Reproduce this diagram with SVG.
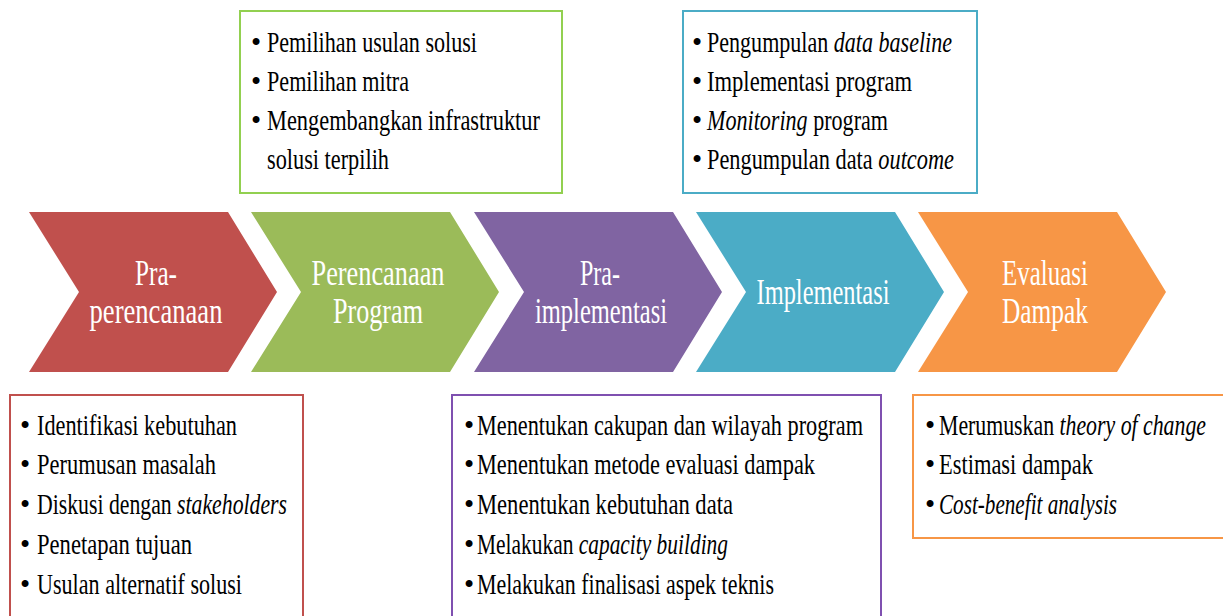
<svg xmlns="http://www.w3.org/2000/svg" width="1223" height="616" viewBox="0 0 1223 616">
<style>
.lbl{font-family:"Liberation Serif",serif;font-size:36px;fill:#fff;text-anchor:middle}
.t{font-family:"Liberation Serif",serif;font-size:29px;fill:#000}
.it{font-style:italic}
.box{fill:#fff;stroke-width:2}
</style>
<rect width="1223" height="616" fill="#fff"/>
<g id="chevron-praperencanaan">
<polygon points="29,212 228,212 277,292 228,372 29,372 79,292" fill="#C0504D"/>
<text class="lbl" x="156" y="285" textLength="42" lengthAdjust="spacingAndGlyphs">Pra-</text>
<text class="lbl" x="156" y="323" textLength="133" lengthAdjust="spacingAndGlyphs">perencanaan</text>
</g>
<g id="chevron-perencanaan">
<polygon points="251,212 450,212 499,292 450,372 251,372 301,292" fill="#9BBB59"/>
<text class="lbl" x="378" y="285" textLength="133" lengthAdjust="spacingAndGlyphs">Perencanaan</text>
<text class="lbl" x="378" y="323" textLength="90" lengthAdjust="spacingAndGlyphs">Program</text>
</g>
<g id="chevron-praimplementasi">
<polygon points="474,212 673,212 722,292 673,372 474,372 524,292" fill="#8064A2"/>
<text class="lbl" x="600" y="285" textLength="40" lengthAdjust="spacingAndGlyphs">Pra-</text>
<text class="lbl" x="601" y="323" textLength="132" lengthAdjust="spacingAndGlyphs">implementasi</text>
</g>
<g id="chevron-implementasi">
<polygon points="696,212 895,212 944,292 895,372 696,372 746,292" fill="#4BACC6"/>
<text class="lbl" x="823" y="304" textLength="133" lengthAdjust="spacingAndGlyphs">Implementasi</text>
</g>
<g id="chevron-evaluasi">
<polygon points="918,212 1117,212 1166,292 1117,372 918,372 968,292" fill="#F79646"/>
<text class="lbl" x="1045" y="285" textLength="86" lengthAdjust="spacingAndGlyphs">Evaluasi</text>
<text class="lbl" x="1045" y="323" textLength="86" lengthAdjust="spacingAndGlyphs">Dampak</text>
</g>
<g id="box-perencanaan">
<rect class="box" x="240" y="11" width="322" height="182" stroke="#92D050"/>
<text class="t" x="251" y="52">•</text>
<text class="t" x="267" y="52" textLength="210" lengthAdjust="spacingAndGlyphs">Pemilihan usulan solusi</text>
<text class="t" x="251" y="91">•</text>
<text class="t" x="267" y="91" textLength="142" lengthAdjust="spacingAndGlyphs">Pemilihan mitra</text>
<text class="t" x="251" y="130">•</text>
<text class="t" x="267" y="130" textLength="273" lengthAdjust="spacingAndGlyphs">Mengembangkan infrastruktur</text>
<text class="t" x="267" y="169" textLength="122" lengthAdjust="spacingAndGlyphs">solusi terpilih</text>
</g>
<g id="box-implementasi">
<rect class="box" x="683" y="11" width="294" height="182" stroke="#4BACC6"/>
<text class="t" x="692" y="52">•</text>
<text class="t" x="707" y="52" textLength="245" lengthAdjust="spacingAndGlyphs">Pengumpulan <tspan class="it">data baseline</tspan></text>
<text class="t" x="692" y="91">•</text>
<text class="t" x="707" y="91" textLength="205" lengthAdjust="spacingAndGlyphs">Implementasi program</text>
<text class="t" x="692" y="130">•</text>
<text class="t" x="707" y="130" textLength="181" lengthAdjust="spacingAndGlyphs"><tspan class="it">Monitoring</tspan> program</text>
<text class="t" x="692" y="169">•</text>
<text class="t" x="707" y="169" textLength="247" lengthAdjust="spacingAndGlyphs">Pengumpulan data <tspan class="it">outcome</tspan></text>
</g>
<g id="box-praperencanaan">
<rect class="box" x="10" y="395" width="293" height="240" stroke="#C0504D"/>
<text class="t" x="20" y="435">•</text>
<text class="t" x="37" y="435" textLength="200" lengthAdjust="spacingAndGlyphs">Identifikasi kebutuhan</text>
<text class="t" x="20" y="474">•</text>
<text class="t" x="37" y="474" textLength="179" lengthAdjust="spacingAndGlyphs">Perumusan masalah</text>
<text class="t" x="20" y="514">•</text>
<text class="t" x="37" y="514" textLength="250" lengthAdjust="spacingAndGlyphs">Diskusi dengan <tspan class="it">stakeholders</tspan></text>
<text class="t" x="20" y="554">•</text>
<text class="t" x="37" y="554" textLength="155" lengthAdjust="spacingAndGlyphs">Penetapan tujuan</text>
<text class="t" x="20" y="594">•</text>
<text class="t" x="37" y="594" textLength="205" lengthAdjust="spacingAndGlyphs">Usulan alternatif solusi</text>
</g>
<g id="box-praimplementasi">
<rect class="box" x="452" y="395" width="429" height="240" stroke="#7F50B0"/>
<text class="t" x="464" y="435">•</text>
<text class="t" x="477" y="435" textLength="386" lengthAdjust="spacingAndGlyphs">Menentukan cakupan dan wilayah program</text>
<text class="t" x="464" y="474">•</text>
<text class="t" x="477" y="474" textLength="338" lengthAdjust="spacingAndGlyphs">Menentukan metode evaluasi dampak</text>
<text class="t" x="464" y="514">•</text>
<text class="t" x="477" y="514" textLength="256" lengthAdjust="spacingAndGlyphs">Menentukan kebutuhan data</text>
<text class="t" x="464" y="554">•</text>
<text class="t" x="477" y="554" textLength="251" lengthAdjust="spacingAndGlyphs">Melakukan <tspan class="it">capacity building</tspan></text>
<text class="t" x="464" y="594">•</text>
<text class="t" x="477" y="594" textLength="297" lengthAdjust="spacingAndGlyphs">Melakukan finalisasi aspek teknis</text>
</g>
<g id="box-evaluasi">
<rect class="box" x="913" y="395" width="330" height="143" stroke="#F79646"/>
<text class="t" x="925" y="435">•</text>
<text class="t" x="939" y="435" textLength="267" lengthAdjust="spacingAndGlyphs">Merumuskan <tspan class="it">theory of change</tspan></text>
<text class="t" x="925" y="474">•</text>
<text class="t" x="939" y="474" textLength="154" lengthAdjust="spacingAndGlyphs">Estimasi dampak</text>
<text class="t" x="925" y="514">•</text>
<text class="t" x="939" y="514" textLength="178" lengthAdjust="spacingAndGlyphs"><tspan class="it">Cost-benefit analysis</tspan></text>
</g>
</svg>
